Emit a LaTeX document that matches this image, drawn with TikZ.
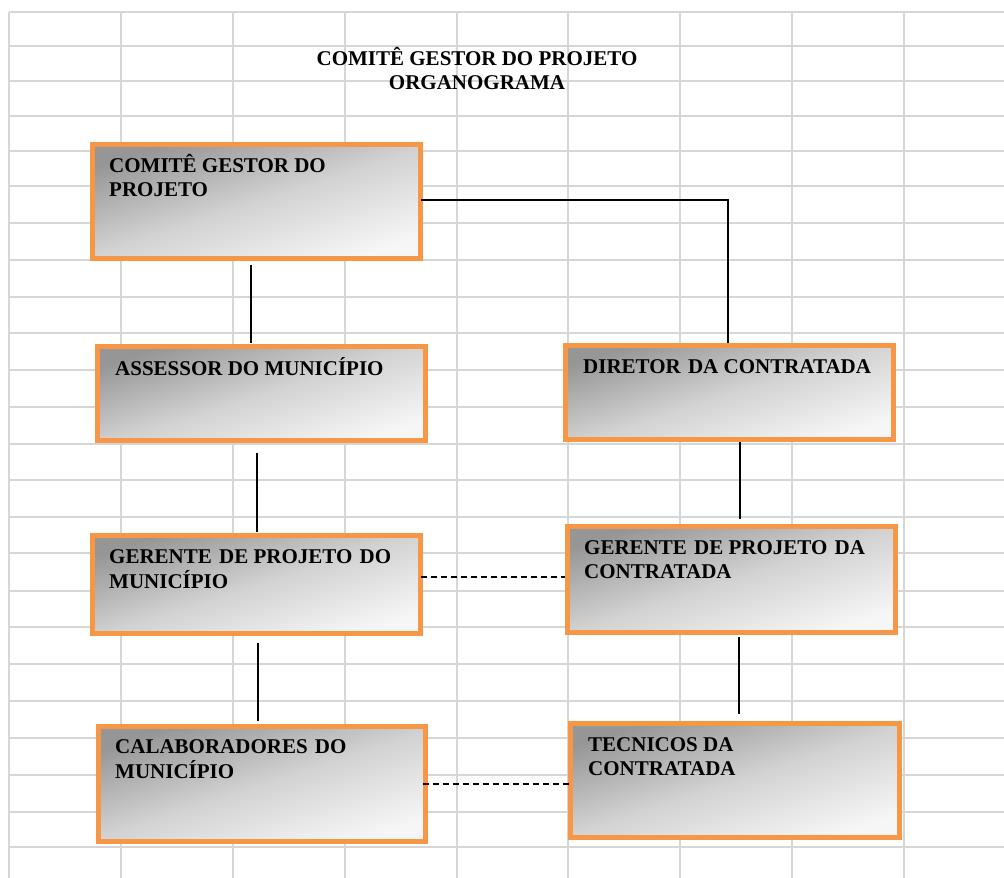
\documentclass[tikz,border=0pt]{standalone}
\usepackage{fontspec}
\setmainfont{Liberation Serif}
\usetikzlibrary{calc}
\definecolor{gridc}{RGB}{214,214,214}
\definecolor{boxorange}{RGB}{247,150,70}
\definecolor{shadeA}{RGB}{150,150,150}
\definecolor{shadeB}{RGB}{210,210,210}
\definecolor{shadeC}{RGB}{246,246,246}
\newcommand{\twolines}[1]{\begin{tabular}[t]{@{}l@{}}#1\end{tabular}}
\newcommand{\xsp}{\hspace{2pt}}
\begin{document}
\begin{tikzpicture}[x=1pt,y=-1pt,
  gridline/.style={draw=gridc, line width=2pt},
  orgbox/.style={rectangle, draw=boxorange, line width=5pt,
    top color=shadeA, bottom color=shadeC, middle color=shadeB,
    shading angle=18, inner sep=0pt, outer sep=0pt},
  lbl/.style={anchor=base west, inner sep=0pt,
    font=\bfseries\fontsize{21}{24}\selectfont},
  conn/.style={draw=black, line width=1.3pt},
  dashconn/.style={conn, dash pattern=on 6pt off 4pt}]
\useasboundingbox (0,0) rectangle (1004,878);
\fill[white] (0,0) rectangle (1004,878);
% spreadsheet grid
\foreach \x in {9,121,233,345,457,568,680,792,904}
  \draw[gridline] (\x,12) -- (\x,878);
\foreach \y in {12,46,81,116,151,186,223,260,297,333,370,407,443.5,480,516.5,553,591,627,664,701,738,775,812,847}
  \draw[gridline] (9,\y) -- (1004,\y);
% title
\node[anchor=base, inner sep=0pt, font=\bfseries\fontsize{21}{24}\selectfont] (title) at (477,65)
  {\begin{tabular}[t]{@{}c@{}}COMITÊ GESTOR DO PROJETO\\ORGANOGRAMA\end{tabular}};
% boxes
\node[orgbox, minimum width=328pt, minimum height=114pt] (b1) at (256.5,201.5) {};
\node[orgbox, minimum width=328pt, minimum height=94pt]  (b2) at (261.5,393.5) {};
\node[orgbox, minimum width=328pt, minimum height=94pt]  (b3) at (729.5,392.5) {};
\node[orgbox, minimum width=328pt, minimum height=98pt]  (b4) at (256.5,584.5) {};
\node[orgbox, minimum width=328pt, minimum height=106pt] (b5) at (731.5,579.5) {};
\node[orgbox, minimum width=327pt, minimum height=115pt] (b6) at (262,784) {};
\node[orgbox, minimum width=329pt, minimum height=114pt] (b7) at (735,780.5) {};
% labels
\node[lbl] (t1) at (109,172) {\twolines{COMITÊ GESTOR DO\\PROJETO}};
\node[lbl] (t2) at (115,375) {ASSESSOR DO MUNICÍPIO};
\node[lbl] (t3) at (583,373) {DIRETOR\xsp{} DA CONTRATADA};
\node[lbl] (t4) at (109,563) {\twolines{GERENTE\xsp{} DE PROJETO\xsp{} DO\\MUNICÍPIO}};
\node[lbl] (t5) at (584,554) {\twolines{GERENTE\xsp{} DE PROJETO\xsp{} DA\\CONTRATADA}};
\node[lbl] (t6) at (115,753) {\twolines{CALABORADORES\xsp{} DO\\MUNICÍPIO}};
\node[lbl] (t7) at (588,751) {\twolines{TECNICOS DA\\CONTRATADA}};
% connectors
\draw[conn, shorten <=6.5pt, shorten >=3.5pt] ([xshift=-5.5pt]b1.south) -- ([xshift=-10.5pt]b2.north);
\draw[conn, shorten <=12.5pt, shorten >=3.5pt] ([xshift=-4.5pt]b2.south) -- ([xshift=0.5pt]b4.north);
\draw[conn, shorten <=9.5pt, shorten >=5.5pt] ([xshift=1.5pt]b4.south) -- ([xshift=-4pt]b6.north);
\draw[conn, shorten >=2.5pt] ([yshift=1.5pt]b1.east) -| ([xshift=-1.5pt]b3.north);
\draw[conn, shorten <=2.5pt, shorten >=7.5pt] ([xshift=10.5pt]b3.south) -- ([xshift=8.5pt]b5.north);
\draw[conn, shorten <=4.5pt, shorten >=9.5pt] ([xshift=7.5pt]b5.south) -- ([xshift=4pt]b7.north);
\draw[dashconn, shorten >=3pt] ([yshift=7.5pt]b4.east) -- ([yshift=2.5pt]b5.west);
\draw[dashconn, shorten <=-3pt, shorten >=2pt] (b6.east) -- ([yshift=-3.5pt]b7.west);
\end{tikzpicture}
\end{document}
